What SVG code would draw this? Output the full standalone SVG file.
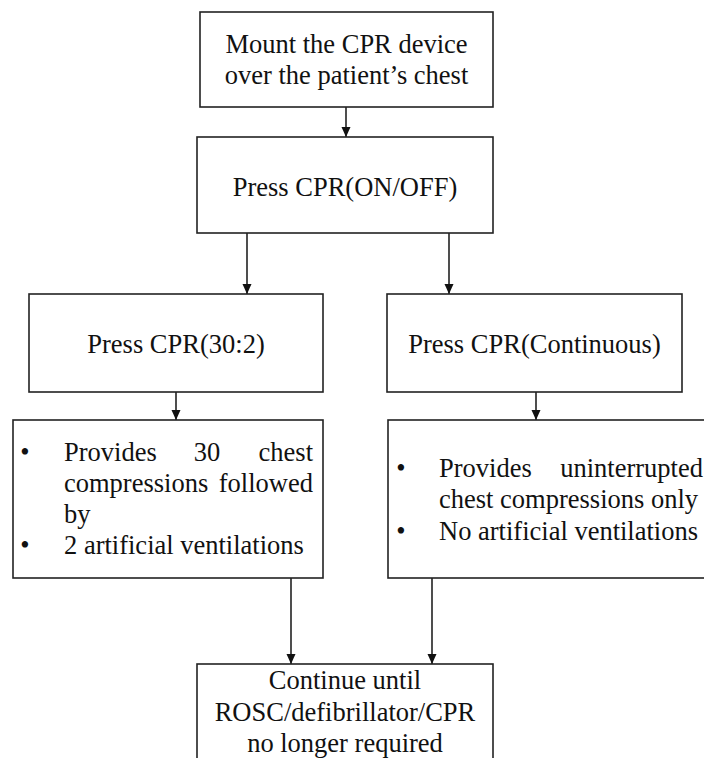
<svg xmlns="http://www.w3.org/2000/svg" width="704" height="758" viewBox="0 0 704 758">
<style>
.box{fill:#fff;stroke:#222;stroke-width:1.6}
.t{font-family:'Liberation Serif','Times New Roman',serif;font-size:26.5px;fill:#111}
.c{text-anchor:middle}
.e{text-anchor:end}
.ln{stroke:#222;stroke-width:1.6;fill:none}
</style>
<defs>
<marker id="ah" viewBox="0 0 10 10" refX="10" refY="5" markerWidth="10" markerHeight="10" markerUnits="userSpaceOnUse" orient="auto">
<path d="M0,0.5 L10,5 L0,9.5 z" fill="#111"/>
</marker>
</defs>
<rect width="704" height="758" fill="#fff"/>
<g id="connectors">
<line class="ln" x1="346" y1="107" x2="346" y2="137" marker-end="url(#ah)"/>
<line class="ln" x1="247" y1="233" x2="247" y2="294" marker-end="url(#ah)"/>
<line class="ln" x1="449" y1="233" x2="449" y2="294" marker-end="url(#ah)"/>
<line class="ln" x1="176" y1="392" x2="176" y2="420" marker-end="url(#ah)"/>
<line class="ln" x1="536" y1="392" x2="536" y2="420" marker-end="url(#ah)"/>
<line class="ln" x1="291" y1="578" x2="291" y2="664" marker-end="url(#ah)"/>
<line class="ln" x1="432" y1="578" x2="432" y2="664" marker-end="url(#ah)"/>
</g>
<g id="mount">
<rect class="box" x="200" y="12" width="293" height="95"/>
<text class="t c" x="346.5" y="53">Mount the CPR device</text>
<text class="t c" x="346.5" y="84">over the patient’s chest</text>
</g>
<g id="onoff">
<rect class="box" x="197" y="137" width="296" height="96"/>
<text class="t c" x="345" y="196">Press CPR(ON/OFF)</text>
</g>
<g id="mode302">
<rect class="box" x="29" y="294" width="294" height="98"/>
<text class="t c" x="176" y="353">Press CPR(30:2)</text>
</g>
<g id="modecont">
<rect class="box" x="387" y="294" width="295" height="98"/>
<text class="t c" x="534.5" y="353">Press CPR(Continuous)</text>
</g>
<g id="desc302">
<rect class="box" x="13" y="420" width="310" height="158"/>
<text class="t c" x="25" y="461">•</text>
<text class="t" x="64" y="461">Provides</text>
<text class="t c" x="207" y="461">30</text>
<text class="t e" x="313" y="461">chest</text>
<text class="t" x="64" y="492">compressions</text>
<text class="t e" x="313" y="492">followed</text>
<text class="t" x="64" y="523">by</text>
<text class="t c" x="25" y="554">•</text>
<text class="t" x="64" y="554">2 artificial ventilations</text>
</g>
<g id="desccont">
<rect class="box" x="388" y="420" width="340" height="158"/>
<text class="t c" x="401" y="477">•</text>
<text class="t" x="439" y="477">Provides</text>
<text class="t e" x="703" y="477">uninterrupted</text>
<text class="t" x="439" y="508">chest compressions only</text>
<text class="t c" x="401" y="540">•</text>
<text class="t" x="439" y="540">No artificial ventilations</text>
</g>
<g id="continue">
<rect class="box" x="197" y="664" width="296" height="120"/>
<text class="t c" x="345" y="689">Continue until</text>
<text class="t c" x="345" y="721">ROSC/defibrillator/CPR</text>
<text class="t c" x="345" y="752">no longer required</text>
</g>
</svg>
